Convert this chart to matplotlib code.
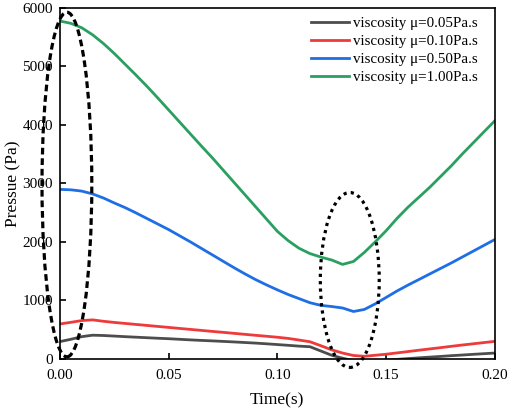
import numpy as np
import matplotlib.pyplot as plt
from matplotlib.patches import Ellipse

plt.rcParams['font.family'] = ['Liberation Serif', 'DejaVu Serif']

# time axis (s), read every 5 ms
t = [0.0, 0.005, 0.01, 0.015, 0.02, 0.025, 0.03, 0.035, 0.04, 0.045,
     0.05, 0.055, 0.06, 0.065, 0.07, 0.075, 0.08, 0.085, 0.09, 0.095,
     0.1, 0.105, 0.11, 0.115, 0.12, 0.125, 0.13, 0.135, 0.14, 0.145,
     0.15, 0.155, 0.16, 0.165, 0.17, 0.175, 0.18, 0.185, 0.19, 0.195, 0.2]

p_005 = [296, 335, 380, 405, 400, 390, 380, 371, 362, 353,
         345, 335, 325, 316, 308, 299, 290, 280, 270, 258,
         245, 232, 218, 208, 135, 62, 12, -30, -45, -38,
         -20, -8, 5, 18, 30, 42, 55, 66, 78, 89, 100]
p_010 = [597, 625, 655, 667, 643, 623, 606, 589, 572, 555,
         538, 521, 504, 487, 470, 454, 437, 420, 403, 387,
         370, 350, 322, 293, 225, 155, 100, 58, 45, 62,
         80, 102, 125, 148, 170, 192, 215, 237, 258, 279, 300]
p_050 = [2897, 2890, 2868, 2820, 2750, 2665, 2585, 2495, 2400, 2305,
         2210, 2105, 2000, 1890, 1780, 1670, 1560, 1455, 1355, 1265,
         1180, 1100, 1030, 960, 915, 895, 870, 810, 845, 940,
         1050, 1160, 1260, 1355, 1450, 1545, 1640, 1740, 1840, 1940, 2040]
p_100 = [5775, 5735, 5660, 5540, 5390, 5220, 5035, 4850, 4660, 4460,
         4255, 4050, 3845, 3640, 3440, 3230, 3020, 2810, 2600, 2390,
         2180, 2020, 1890, 1800, 1740, 1690, 1615, 1665, 1820, 2000,
         2190, 2400, 2590, 2760, 2930, 3115, 3300, 3500, 3690, 3880, 4070]

labels = ['viscosity \u03bc=0.05Pa.s', 'viscosity \u03bc=0.10Pa.s',
          'viscosity \u03bc=0.50Pa.s', 'viscosity \u03bc=1.00Pa.s']
colors = ['#4d4d4d', '#ee3a3a', '#1e6ee6', '#2aa060']

fig = plt.figure(figsize=(5.08, 4.13), dpi=100)
ax = fig.add_axes([0.118, 0.131, 0.856, 0.85])

for p, lab, c in zip([p_005, p_010, p_050, p_100], labels, colors):
    ax.plot(t, p, color=c, lw=2.0, label=lab, solid_joinstyle='round')

# highlight ellipses
e1 = Ellipse((0.0032, 2980), 0.0229, 5890, fill=False, ec='black', lw=2.3,
             ls=(0, (2.1, 1.2)), clip_on=False, zorder=5)
e2 = Ellipse((0.1333, 1349), 0.0271, 2990, fill=False, ec='black', lw=2.3,
             ls=(0, (1, 1.3)), clip_on=False, zorder=5)
ax.add_patch(e1)
ax.add_patch(e2)

ax.set_xlim(0, 0.2)
ax.set_ylim(0, 6000)
ax.set_xticks([0, 0.05, 0.1, 0.15, 0.2])
ax.set_xticklabels(['0.00', '0.05', '0.10', '0.15', '0.20'])
ax.set_yticks([0, 1000, 2000, 3000, 4000, 5000, 6000])
ax.tick_params(direction='in', length=4.5, width=1.2, labelsize=11)
ax.tick_params(axis='x', pad=7)
ax.tick_params(axis='y', pad=5)
for s in ax.spines.values():
    s.set_linewidth(1.2)

ax.set_xlabel('Time(s)', fontsize=12.5, labelpad=8)
ax.set_ylabel('Pressue (Pa)', fontsize=12.5, labelpad=1)

ax.legend(loc='upper right', bbox_to_anchor=(0.961, 0.974), frameon=False,
          fontsize=10.8, handlelength=2.5, handletextpad=0.3,
          labelspacing=0.3, borderaxespad=0, borderpad=0)

fig.savefig('out.png', dpi=100)
